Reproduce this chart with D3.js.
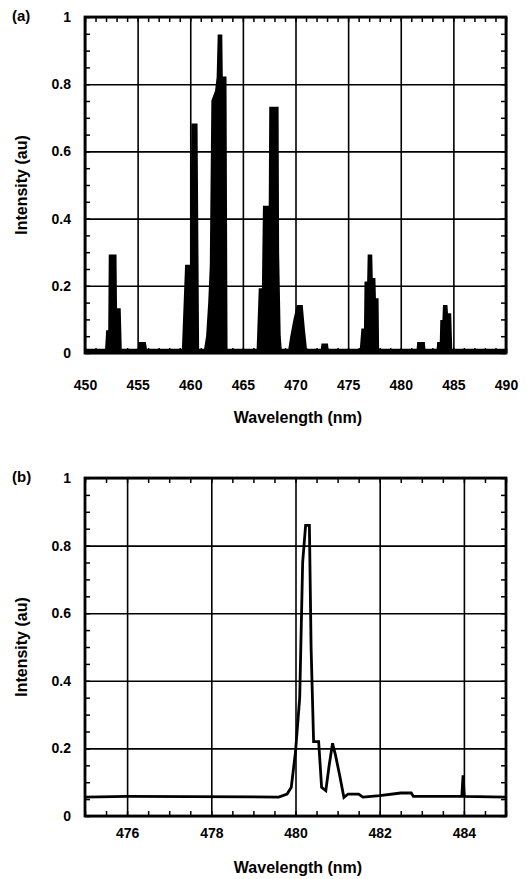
<!DOCTYPE html>
<html>
<head>
<meta charset="utf-8">
<style>
body, html {
	margin: 0;
	background: #fff;
}
svg text {
	font-family: "Liberation Sans", Arial, sans-serif;
	font-weight: bold;
	fill: #000;
}
</style>
</head>
<body>
<div id="chartContainer"></div>
<script src="https://cdn.jsdelivr.net/npm/d3@7"></script>
<script>

// panel (a): wavelength (nm) / intensity (au)
const wavelengthA = [450, 452.0, 452.1, 452.3, 452.35, 452.9, 452.95, 453.3, 453.4,
	455.1, 455.2, 455.7, 455.8,
	459.3, 459.6, 460.1, 460.2, 460.6, 460.75,
	461.4, 461.6, 461.8, 461.95, 462.1, 462.45, 462.6, 462.7, 462.95, 463.0, 463.35, 463.45,
	466.4, 466.6, 466.9, 467.0, 467.55, 467.6, 468.3, 468.35, 468.5, 468.6,
	469.4, 469.6, 469.9, 470.2, 470.6, 470.8, 471.0,
	472.5, 472.55, 473.0, 473.05,
	476.2, 476.35, 476.6, 476.65, 476.9, 476.95, 477.2, 477.25, 477.5, 477.55, 477.8, 477.85,
	481.6, 481.65, 482.2, 482.25,
	483.5, 483.55, 483.8, 483.85, 484.05, 484.1, 484.35, 484.4, 484.7, 484.8, 490];
const intensityA = [0.01, 0.01, 0.065, 0.065, 0.29, 0.29, 0.13, 0.13, 0.01,
	0.01, 0.03, 0.03, 0.01,
	0.01, 0.26, 0.26, 0.68, 0.68, 0.01,
	0.01, 0.05, 0.15, 0.26, 0.75, 0.78, 0.82, 0.945, 0.945, 0.82, 0.82, 0.01,
	0.01, 0.19, 0.19, 0.435, 0.435, 0.73, 0.73, 0.3, 0.05, 0.01,
	0.01, 0.05, 0.1, 0.14, 0.14, 0.07, 0.01,
	0.01, 0.025, 0.025, 0.01,
	0.01, 0.07, 0.07, 0.21, 0.21, 0.29, 0.29, 0.22, 0.22, 0.16, 0.16, 0.01,
	0.01, 0.03, 0.03, 0.01,
	0.01, 0.03, 0.03, 0.095, 0.095, 0.14, 0.14, 0.115, 0.115, 0.01, 0.01];

// panel (b)
const wavelengthB = [475, 476.0, 479.6, 479.8, 479.9, 480.0, 480.1, 480.17, 480.24, 480.33,
	480.37, 480.43, 480.55, 480.62, 480.72, 480.8, 480.88, 480.95, 481.05, 481.15,
	481.25, 481.5, 481.6, 482.0, 482.5, 482.75, 482.8, 483.95, 483.98, 484.01, 485];
const intensityB = [0.056, 0.058, 0.056, 0.065, 0.085, 0.19, 0.35, 0.75, 0.86, 0.86,
	0.5, 0.22, 0.22, 0.085, 0.075, 0.15, 0.215, 0.18, 0.12, 0.055,
	0.065, 0.065, 0.056, 0.06, 0.068, 0.068, 0.058, 0.058, 0.12, 0.058, 0.056];

const xTicksA = [450, 455, 460, 465, 470, 475, 480, 485, 490];
const xTicksB = [476, 478, 480, 482, 484];
const yTicks = [0, 0.2, 0.4, 0.6, 0.8, 1];

const WIDTH = 530;
const HEIGHT = 879;
const PLOT_LEFT = 85;
const PLOT_RIGHT = 506;
const FONT = "'Liberation Sans', Arial, sans-serif";

var svg = d3.select("#chartContainer").append("svg")
	.attr("width", WIDTH)
	.attr("height", HEIGHT);

function drawPanel(opt) {
	const x = d3.scaleLinear().domain(opt.xDomain).range([PLOT_LEFT, PLOT_RIGHT]);
	const y = d3.scaleLinear().domain([0, 1]).range([opt.bottom, opt.top]);
	const h = opt.bottom - opt.top;
	const w = PLOT_RIGHT - PLOT_LEFT;
	const g = svg.append("g");

	// grid
	g.append("g")
		.attr("transform", `translate(0,${opt.bottom})`)
		.call(d3.axisBottom(x).tickValues(opt.xTicks).tickSize(-h).tickFormat(""))
		.call(s => s.select(".domain").remove())
		.selectAll("line").attr("stroke", "#000").attr("stroke-width", 1.6);
	g.append("g")
		.attr("transform", `translate(${PLOT_LEFT},0)`)
		.call(d3.axisLeft(y).tickValues(yTicks).tickSize(-w).tickFormat(""))
		.call(s => s.select(".domain").remove())
		.selectAll("line").attr("stroke", "#000").attr("stroke-width", 1.6);

	// minor ticks, inside on all sides
	const xMinor = d3.range(opt.xDomain[0], opt.xDomain[1] + 1e-6, opt.xMinorStep);
	const yMinor = d3.range(0, 1.0001, 0.05);
	[[d3.axisBottom, opt.bottom], [d3.axisTop, opt.top]].forEach(([ax, pos]) => {
		g.append("g")
			.attr("transform", `translate(0,${pos})`)
			.call(ax(x).tickValues(xMinor).tickSize(-5).tickFormat(""))
			.call(s => s.select(".domain").remove())
			.selectAll("line").attr("stroke", "#000").attr("stroke-width", 1.5);
	});
	[[d3.axisLeft, PLOT_LEFT], [d3.axisRight, PLOT_RIGHT]].forEach(([ax, pos]) => {
		g.append("g")
			.attr("transform", `translate(${pos},0)`)
			.call(ax(y).tickValues(yMinor).tickSize(-5).tickFormat(""))
			.call(s => s.select(".domain").remove())
			.selectAll("line").attr("stroke", "#000").attr("stroke-width", 1.5);
	});

	// spectrum
	const pts = opt.xs.map((v, i) => [v, opt.ys[i]]);
	if (opt.filled) {
		g.append("path")
			.datum(pts)
			.attr("fill", "#000")
			.attr("stroke", "#000")
			.attr("stroke-width", 2)
			.attr("d", d3.area().x(d => x(d[0])).y0(y(0)).y1(d => y(d[1])));
	} else {
		g.append("path")
			.datum(pts)
			.attr("fill", "none")
			.attr("stroke", "#000")
			.attr("stroke-width", 2.8)
			.attr("d", d3.line().x(d => x(d[0])).y(d => y(d[1])));
	}

	// frame
	g.append("rect")
		.attr("x", PLOT_LEFT).attr("y", opt.top)
		.attr("width", w).attr("height", h)
		.attr("fill", "none").attr("stroke", "#000").attr("stroke-width", 2.8);

	// tick labels
	g.append("g")
		.attr("transform", `translate(0,${opt.bottom + opt.tickGap})`)
		.call(d3.axisBottom(x).tickValues(opt.xTicks).tickSize(0).tickPadding(0))
		.call(s => s.select(".domain").remove())
		.selectAll("text")
			.style("font-size", "14px")
			.style("font-family", FONT)
			.style("font-weight", "bold");
	g.append("g")
		.attr("transform", `translate(${PLOT_LEFT - 12},0)`)
		.call(d3.axisLeft(y).tickValues(yTicks).tickSize(0).tickPadding(2)
			.tickFormat(d => d === 0 ? "0" : d === 1 ? "1" : d3.format(".1f")(d)))
		.call(s => s.select(".domain").remove())
		.selectAll("text")
			.style("font-size", "14px")
			.style("font-family", FONT)
			.style("font-weight", "bold");

	// titles
	g.append("text")
		.attr("x", 12).attr("y", opt.top + 4)
		.style("font-size", "15px")
		.text(opt.label);
	g.append("text")
		.attr("x", 298).attr("y", opt.bottom + opt.titleGap)
		.attr("text-anchor", "middle")
		.style("font-size", "16px")
		.text("Wavelength (nm)");
	g.append("text")
		.attr("transform", `translate(27,${(opt.top + opt.bottom) / 2}) rotate(-90)`)
		.attr("text-anchor", "middle")
		.style("font-size", "16px")
		.text("Intensity (au)");
}

drawPanel({
	label: "(a)", top: 17, bottom: 353, xDomain: [450, 490], xTicks: xTicksA, xMinorStep: 1,
	xs: wavelengthA, ys: intensityA, filled: true, tickGap: 27, titleGap: 70
});
drawPanel({
	label: "(b)", top: 478, bottom: 816, xDomain: [475, 485], xTicks: xTicksB, xMinorStep: 0.5,
	xs: wavelengthB, ys: intensityB, filled: false, tickGap: 12, titleGap: 57
});

</script>
</body>
</html>
